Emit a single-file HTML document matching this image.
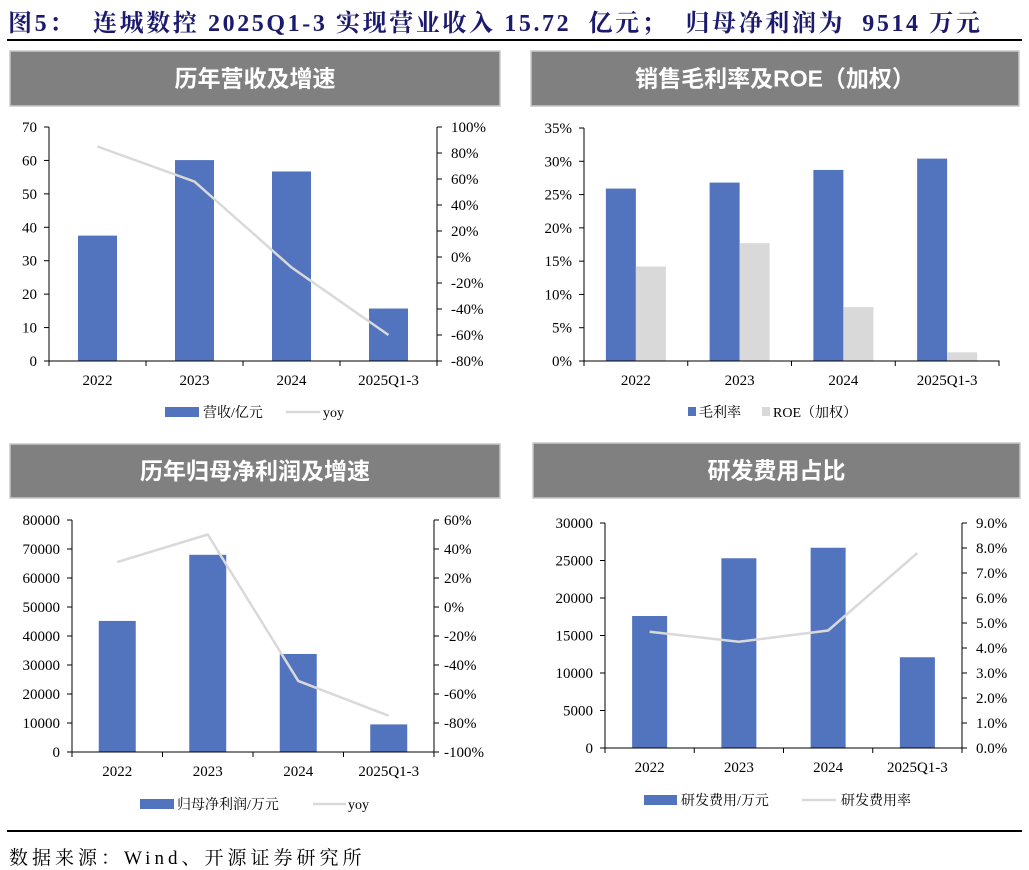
<!DOCTYPE html>
<html><head><meta charset="utf-8">
<style>
body{margin:0;background:#fff;width:1029px;height:869px;overflow:hidden;position:relative;font-family:"Liberation Serif","Noto Serif CJK SC",serif;}
#title{position:absolute;left:8px;top:3px;font-size:24px;font-weight:bold;color:#1c1a6e;white-space:pre;letter-spacing:2.6px}
.hr{position:absolute;left:7px;width:1015px;height:2px;background:#000}
#src{position:absolute;left:9px;top:843px;font-size:19px;color:#000;letter-spacing:4px;font-family:"Liberation Serif","Noto Serif CJK SC",serif}
svg{position:absolute;left:0;top:0}
</style></head><body>
<div id="title">图5：  连城数控 2025Q1-3 实现营业收入 15.72  亿元；  归母净利润为  9514 万元</div>
<div class="hr" style="top:39px"></div>
<div class="hr" style="top:830px;height:1.5px"></div>
<div id="src">数据来源：Wind、开源证券研究所</div>
<svg id="svg" width="1029" height="869" xmlns="http://www.w3.org/2000/svg"></svg>
<script>
const categories=["2022","2023","2024","2025Q1-3"];
// chart 1
const revenue=[37.5,60.1,56.7,15.7];
const revenueYoy=[85,58,-8,-60];
const revTicks=[0,10,20,30,40,50,60,70];
const revYoyTicks=[-80,-60,-40,-20,0,20,40,60,80,100];
// chart 2
const grossMargin=[25.9,26.8,28.7,30.4];
const roe=[14.2,17.7,8.1,1.3];
const marginTicks=[0,5,10,15,20,25,30,35];
// chart 3
const netProfit=[45200,68000,33800,9514];
const profitYoy=[31,50,-51,-75];
const profitTicks=[0,10000,20000,30000,40000,50000,60000,70000,80000];
const profitYoyTicks=[-100,-80,-60,-40,-20,0,20,40,60];
// chart 4
const rdExpense=[17600,25300,26700,12100];
const rdRate=[4.65,4.25,4.7,7.8];
const rdTicks=[0,5000,10000,15000,20000,25000,30000];
const rdRateTicks=[0,1,2,3,4,5,6,7,8,9];

const NS="http://www.w3.org/2000/svg";
const svg=document.getElementById('svg');
const FONT='"Liberation Serif","Noto Serif CJK SC",serif';
function mk(tag,attrs,parent){const e=document.createElementNS(NS,tag);for(const k in attrs)e.setAttribute(k,attrs[k]);(parent||svg).appendChild(e);return e;}
function txt(x,y,s,anchor,size,parent,extra){const t=mk('text',Object.assign({x:x,y:y,'text-anchor':anchor,'font-size':size,'font-family':FONT,fill:'#000'},extra||{}),parent);t.textContent=s;return t;}

function titleBar(g,x,y,w,h,s){
  const r=mk('rect',{x:x,y:y,width:w,height:h,fill:'#808080',stroke:'#c8c8c8','stroke-width':1.5},g);
  
  
  const t=txt(x+w/2,y+h/2+8,s,'middle',23,g,{fill:'#fff','font-weight':'bold','font-family':'"Liberation Sans","Noto Sans CJK SC",sans-serif'});
  
  
}

function chart(o){
  const g=mk('g',{});
  
  
  titleBar(g,o.tb[0],o.tb[1],o.tb[2],o.tb[3],o.title);
  const L=o.L,R=o.R,T=o.T,B=o.B;
  const band=(R-L)/categories.length;
  const yL=v=>B-(v-o.lt[0])/(o.lt[o.lt.length-1]-o.lt[0])*(B-T);
  const yR=o.rt?(v=>B-(v-o.rt[0])/(o.rt[o.rt.length-1]-o.rt[0])*(B-T)):null;
  o.series.forEach((s,si)=>{
    s.vals.forEach((v,i)=>{
      const cx=L+band*(i+0.5);
      const x=o.series.length>1?cx-o.bw+si*o.bw:cx-o.bw/2;
      const r=mk('rect',{x:x,y:yL(v),width:o.bw,height:B-yL(v),fill:s.color},g);
      
      
    });
  });
  if(o.line){
    const pts=o.line.map((v,i)=>(L+band*(i+0.5))+','+yR(v)).join(' ');
    const p=mk('polyline',{points:pts,fill:'none',stroke:'#d9d9d9','stroke-width':2.5},g);
    
    
  }
  mk('line',{x1:L,y1:T,x2:L,y2:B,stroke:'#000','stroke-width':1},g);
  mk('line',{x1:L-0.5,y1:B,x2:R+0.5,y2:B,stroke:'#000','stroke-width':1},g);
  o.lt.forEach(v=>{
    mk('line',{x1:L-5,y1:yL(v),x2:L,y2:yL(v),stroke:'#000'},g);
    const t=txt(L-12,yL(v)+5,o.lfmt(v),'end',15,g);
    
    
  });
  if(o.rt){
    mk('line',{x1:R,y1:T,x2:R,y2:B,stroke:'#000','stroke-width':1},g);
    o.rt.forEach(v=>{
      mk('line',{x1:R,y1:yR(v),x2:R+5,y2:yR(v),stroke:'#000'},g);
      const t=txt(R+o.rOff,yR(v)+5,o.rfmt(v),'start',15,g);
      
      
    });
  }
  for(let i=0;i<=categories.length;i++){mk('line',{x1:L+band*i,y1:B,x2:L+band*i,y2:B+5,stroke:'#000'},g);}
  categories.forEach((c,i)=>{
    const t=txt(L+band*(i+0.5),B+24,c,'middle',15,g);
    
    
  });
  o.legend.forEach(l=>{
    let m;
    if(l.type==='rect')m=mk('rect',{x:l.x,y:l.y-5,width:l.w,height:l.h||10,fill:l.color},g);
    else m=mk('line',{x1:l.x,y1:l.y,x2:l.x+l.w,y2:l.y,stroke:'#d9d9d9','stroke-width':2.5},g);
    
    
    const t=txt(l.tx,l.y+5,l.label,'start',14,g);
    
    
  });
}
const BLUE='#5273bd';
chart({name:'revenue-chart',title:'历年营收及增速',tb:[10,51,490,55],L:49,R:437,T:127,B:361,bw:39,
  series:[{key:'revenue',vals:revenue,color:BLUE}],line:revenueYoy,lineKey:'revenue-yoy',
  lt:revTicks,lfmt:v=>String(v),rt:revYoyTicks,rfmt:v=>v+'%',rOff:14,
  legend:[{type:'rect',x:165,y:412,w:34,color:BLUE,label:'营收/亿元',tx:203},{type:'line',x:286,y:412,w:34,label:'yoy',tx:323}]});
chart({name:'margin-roe-chart',title:'销售毛利率及ROE（加权）',tb:[531,51,488,55],L:584,R:999,T:128,B:361,bw:30,
  series:[{key:'gross-margin',vals:grossMargin,color:BLUE},{key:'roe',vals:roe,color:'#d9d9d9'}],
  lt:marginTicks,lfmt:v=>v+'%',
  legend:[{type:'rect',x:688,y:412,w:8,h:9,color:BLUE,label:'毛利率',tx:699},{type:'rect',x:762,y:412,w:8,h:9,color:'#d9d9d9',label:'ROE（加权）',tx:773}]});
chart({name:'net-profit-chart',title:'历年归母净利润及增速',tb:[10,444,490,54],L:72,R:434,T:520,B:752,bw:37,
  series:[{key:'net-profit',vals:netProfit,color:BLUE}],line:profitYoy,lineKey:'profit-yoy',
  lt:profitTicks,lfmt:v=>String(v),rt:profitYoyTicks,rfmt:v=>v+'%',rOff:10,
  legend:[{type:'rect',x:140,y:804,w:34,color:BLUE,label:'归母净利润/万元',tx:177},{type:'line',x:313,y:804,w:33,label:'yoy',tx:348}]});
chart({name:'rd-expense-chart',title:'研发费用占比',tb:[533,443,487,55],L:605,R:962,T:523,B:748,bw:35,
  series:[{key:'rd-expense',vals:rdExpense,color:BLUE}],line:rdRate,lineKey:'rd-rate',
  lt:rdTicks,lfmt:v=>String(v),rt:rdRateTicks,rfmt:v=>v.toFixed(1)+'%',rOff:14,
  legend:[{type:'rect',x:644,y:800,w:33,color:BLUE,label:'研发费用/万元',tx:681},{type:'line',x:802,y:800,w:34,label:'研发费用率',tx:841}]});
</script>
</body></html>
